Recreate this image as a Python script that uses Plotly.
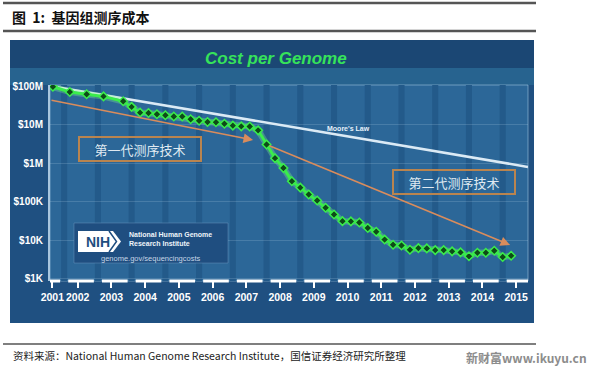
import plotly.graph_objects as go

# ---------------- data ----------------
dates = ["2001-09", "2002-03", "2002-09", "2003-03", "2003-10", "2004-01",
         "2004-04", "2004-07", "2004-10",
         "2005-01", "2005-04", "2005-07", "2005-10",
         "2006-01", "2006-04", "2006-07", "2006-10",
         "2007-01", "2007-04", "2007-07", "2007-10",
         "2008-01", "2008-04", "2008-07", "2008-10",
         "2009-01", "2009-04", "2009-07", "2009-10",
         "2010-01", "2010-04", "2010-07", "2010-10",
         "2011-01", "2011-04", "2011-07", "2011-10",
         "2012-01", "2012-04", "2012-07", "2012-10",
         "2013-01", "2013-04", "2013-07", "2013-10",
         "2014-01", "2014-04", "2014-07", "2014-10",
         "2015-01", "2015-04"]
cost = [95.3e6, 70.2e6, 61.4e6, 53.8e6, 40.2e6, 28.8e6,
        20.4e6, 19.9e6, 18.5e6,
        17.5e6, 16.2e6, 16.2e6, 13.8e6,
        12.6e6, 11.7e6, 11.5e6, 10.5e6,
        9.4e6, 9.0e6, 8.9e6, 7.1e6,
        3.06e6, 1.35e6, 752e3, 342e3,
        233e3, 155e3, 108e3, 70e3,
        46.8e3, 31.5e3, 31.1e3, 29.1e3,
        21.0e3, 16.7e3, 10.5e3, 7.7e3,
        7.4e3, 5.7e3, 6.3e3, 6.2e3,
        5.6e3, 5.6e3, 5.2e3, 4.9e3,
        3.9e3, 4.8e3, 4.8e3, 5.4e3,
        3.7e3, 4.0e3]
years = list(range(2001, 2016))
moore_x = [2001.58, 2015.75]
moore_y = [1.0e8, 8.0e5]
ytick_vals = [1e3, 1e4, 1e5, 1e6, 1e7, 1e8]
ytick_text = ["$1K", "$10K", "$100K", "$1M", "$10M", "$100M"]
# arrows: (tail x, tail log10 y, head x, head log10 y)
arrow1 = (2001.58, 7.64, 2007.60, 6.60)
arrow2 = (2008.04, 6.47, 2015.22, 3.88)
label1 = "第一代测序技术"
label2 = "第二代测序技术"

# ---------------- layout helpers ----------------
W, H = 600, 369
PL, PR, PT, PB = 50, 528, 85, 281
XR = [2001.58, 2015.75]
YR = [2.948, 8.026]


def px(x):
    return (x - PL) / (PR - PL)


def py(y):
    return (PB - y) / (PB - PT)


def dec(d):
    yy, mm = d.split("-")
    return int(yy) + (int(mm) - 1) / 12


xv = [dec(d) for d in dates]
tickvals = [2001.65 if y == 2001 else y + 0.4 for y in years]
ticktext = [str(y) for y in years]

FONT = "Arial, Liberation Sans, sans-serif"
CJK = "Noto Sans CJK SC, sans-serif"

fig = go.Figure()

# Moore's law
fig.add_trace(go.Scatter(x=moore_x, y=moore_y, mode="lines",
                         line=dict(color="#dbeaf5", width=2.5),
                         hoverinfo="skip", showlegend=False))
# glow
fig.add_trace(go.Scatter(x=xv, y=cost, mode="lines",
                         line=dict(color="rgba(140,255,140,0.30)", width=6.5),
                         hoverinfo="skip", showlegend=False))
fig.add_trace(go.Scatter(x=xv, y=cost, mode="lines+markers",
                         line=dict(color="#3aec4c", width=3),
                         marker=dict(symbol="diamond", size=6.5, color="#0e4a18",
                                     line=dict(color="#3aec4c", width=1.5)),
                         showlegend=False))

shapes = []
# outer panel
shapes.append(dict(type="rect", xref="paper", yref="paper", layer="below",
                   x0=px(10), x1=px(534), y0=py(323), y1=py(40),
                   fillcolor="#1f5081", line=dict(width=0)))
# title band
shapes.append(dict(type="rect", xref="paper", yref="paper", layer="below",
                   x0=px(10), x1=px(534), y0=py(68), y1=py(40),
                   fillcolor="#1b4774", line=dict(width=0)))
shapes.append(dict(type="rect", xref="paper", yref="paper", layer="below",
                   x0=px(10), x1=px(534), y0=py(85), y1=py(68),
                   fillcolor="#27638f", line=dict(width=0)))
# plot area
shapes.append(dict(type="rect", xref="paper", yref="paper", layer="below",
                   x0=0, x1=1, y0=0, y1=1,
                   fillcolor="#2c6798", line=dict(color="rgba(170,205,232,0.55)", width=1)))
# year stripes
for y in years[1:]:
    shapes.append(dict(type="rect", xref="x", yref="paper", layer="below",
                       x0=y - 0.09, x1=y + 0.09, y0=0, y1=1,
                       fillcolor="#235a8a", line=dict(width=0)))
# bottom white bars per year
for y in years:
    shapes.append(dict(type="line", xref="x", yref="paper", layer="above",
                       x0=max(y + 0.12, XR[0]), x1=min(y + 0.88, XR[1]), y0=0, y1=0,
                       line=dict(color="white", width=3)))
# NIH box
shapes.append(dict(type="rect", xref="paper", yref="paper", layer="above",
                   x0=px(74), x1=px(228), y0=py(263), y1=py(223),
                   fillcolor="#1f4e80", line=dict(color="rgba(120,160,200,0.4)", width=1)))
badge = [(78, 231), (113, 231), (121, 241.5), (113, 252), (78, 252)]
path = "M " + " L ".join(f"{px(a):.5f},{py(b):.5f}" for a, b in badge) + " Z"
shapes.append(dict(type="path", xref="paper", yref="paper", layer="above",
                   path=path, fillcolor="white", line=dict(width=0)))
chev = [(109, 231), (116.5, 241.5), (109, 252)]
path2 = "M " + " L ".join(f"{px(a):.5f},{py(b):.5f}" for a, b in chev)
shapes.append(dict(type="path", xref="paper", yref="paper", layer="above",
                   path=path2, line=dict(color="#1f4e80", width=1.5)))
# page rules
for yy, wd in [(3, 2.5), (31, 2.5), (344, 1.5)]:
    shapes.append(dict(type="line", xref="paper", yref="paper", layer="above",
                       x0=px(3), x1=px(536), y0=py(yy), y1=py(yy),
                       line=dict(color="#555555", width=wd)))

ann = []
ann.append(dict(xref="paper", yref="paper", x=px(10), y=py(17), xanchor="left", yanchor="middle",
                text="图  <b>1:</b>  基因组测序成本", showarrow=False,
                font=dict(family=CJK, size=14, color="#111111", weight="bold")))
ann.append(dict(xref="paper", yref="paper", x=px(276), y=py(59), xanchor="center", yanchor="middle",
                text="<b><i>Cost per Genome</i></b>", showarrow=False,
                font=dict(family=FONT, size=17, color="#36e25a")))
ann.append(dict(xref="paper", yref="paper", x=px(348), y=py(128), xanchor="center", yanchor="middle",
                text="<b>Moore's Law</b>", showarrow=False,
                font=dict(family=FONT, size=7, color="#e8f2fa")))
# arrows
for a in (arrow1, arrow2):
    ann.append(dict(xref="x", yref="y", axref="x", ayref="y",
                    x=a[2], y=a[3], ax=a[0], ay=a[1], text="", showarrow=True,
                    arrowhead=2, arrowsize=1.2, arrowwidth=1.6, arrowcolor="#d98c5c"))
# labelled boxes
for lab, cx, cy in [(label1, 140, 149), (label2, 454, 182)]:
    ann.append(dict(xref="paper", yref="paper", x=px(cx), y=py(cy), xanchor="center", yanchor="middle",
                    text=lab, showarrow=False, width=116, height=18, borderpad=2,
                    bordercolor="#b9844f", borderwidth=2,
                    font=dict(family=CJK, size=13, color="#dfe9f1")))
# NIH texts
ann.append(dict(xref="paper", yref="paper", x=px(97.5), y=py(242), xanchor="center", yanchor="middle",
                text="<b>NIH</b>", showarrow=False,
                font=dict(family=FONT, size=14, color="#1f4e80")))
ann.append(dict(xref="paper", yref="paper", x=px(127), y=py(239), xanchor="left", yanchor="middle",
                text="<b>National Human Genome<br>Research Institute</b>", showarrow=False, align="left",
                font=dict(family=FONT, size=7, color="#eef4fa")))
ann.append(dict(xref="paper", yref="paper", x=px(150), y=py(258), xanchor="center", yanchor="middle",
                text="genome.gov/sequencingcosts", showarrow=False,
                font=dict(family=FONT, size=7.5, color="#c6d6e6")))
# footer
ann.append(dict(xref="paper", yref="paper", x=px(11), y=py(355), xanchor="left", yanchor="middle",
                text="资料来源：National Human Genome Research Institute，国信证券经济研究所整理",
                showarrow=False, font=dict(family=CJK, size=10.5, color="#222222")))
ann.append(dict(xref="paper", yref="paper", x=px(589), y=py(357), xanchor="right", yanchor="middle",
                text="<b>新财富www.ikuyu.cn</b>", showarrow=False,
                font=dict(family=CJK, size=12, color="#8c8c8c")))

fig.update_layout(
    width=W, height=H, autosize=False,
    margin=dict(l=PL, r=W - PR, t=PT, b=H - PB, pad=0, autoexpand=False),
    paper_bgcolor="white", plot_bgcolor="rgba(0,0,0,0)",
    shapes=shapes, annotations=ann, showlegend=False,
    xaxis=dict(range=XR, tickmode="array", tickvals=tickvals, ticktext=ticktext,
               showgrid=False, zeroline=False, showline=False, automargin=False,
               tickangle=0,
               ticks="outside", ticklen=6, tickwidth=2, tickcolor="white",
               tickfont=dict(family=FONT, size=10.5, color="white", weight="bold")),
    yaxis=dict(type="log", range=YR, tickmode="array", tickvals=ytick_vals, ticktext=ytick_text,
               showgrid=True, gridcolor="rgba(200,225,245,0.18)", gridwidth=1, automargin=False,
               zeroline=False, showline=True, linecolor="#a9c6de", linewidth=2,
               ticks="", ticklabelstandoff=3,
               tickfont=dict(family=FONT, size=10, color="white", weight="bold")),
)

fig.write_html("out.html", config={"displayModeBar": False},
               post_script="document.body.style.margin='0';document.body.style.overflow='hidden';")
